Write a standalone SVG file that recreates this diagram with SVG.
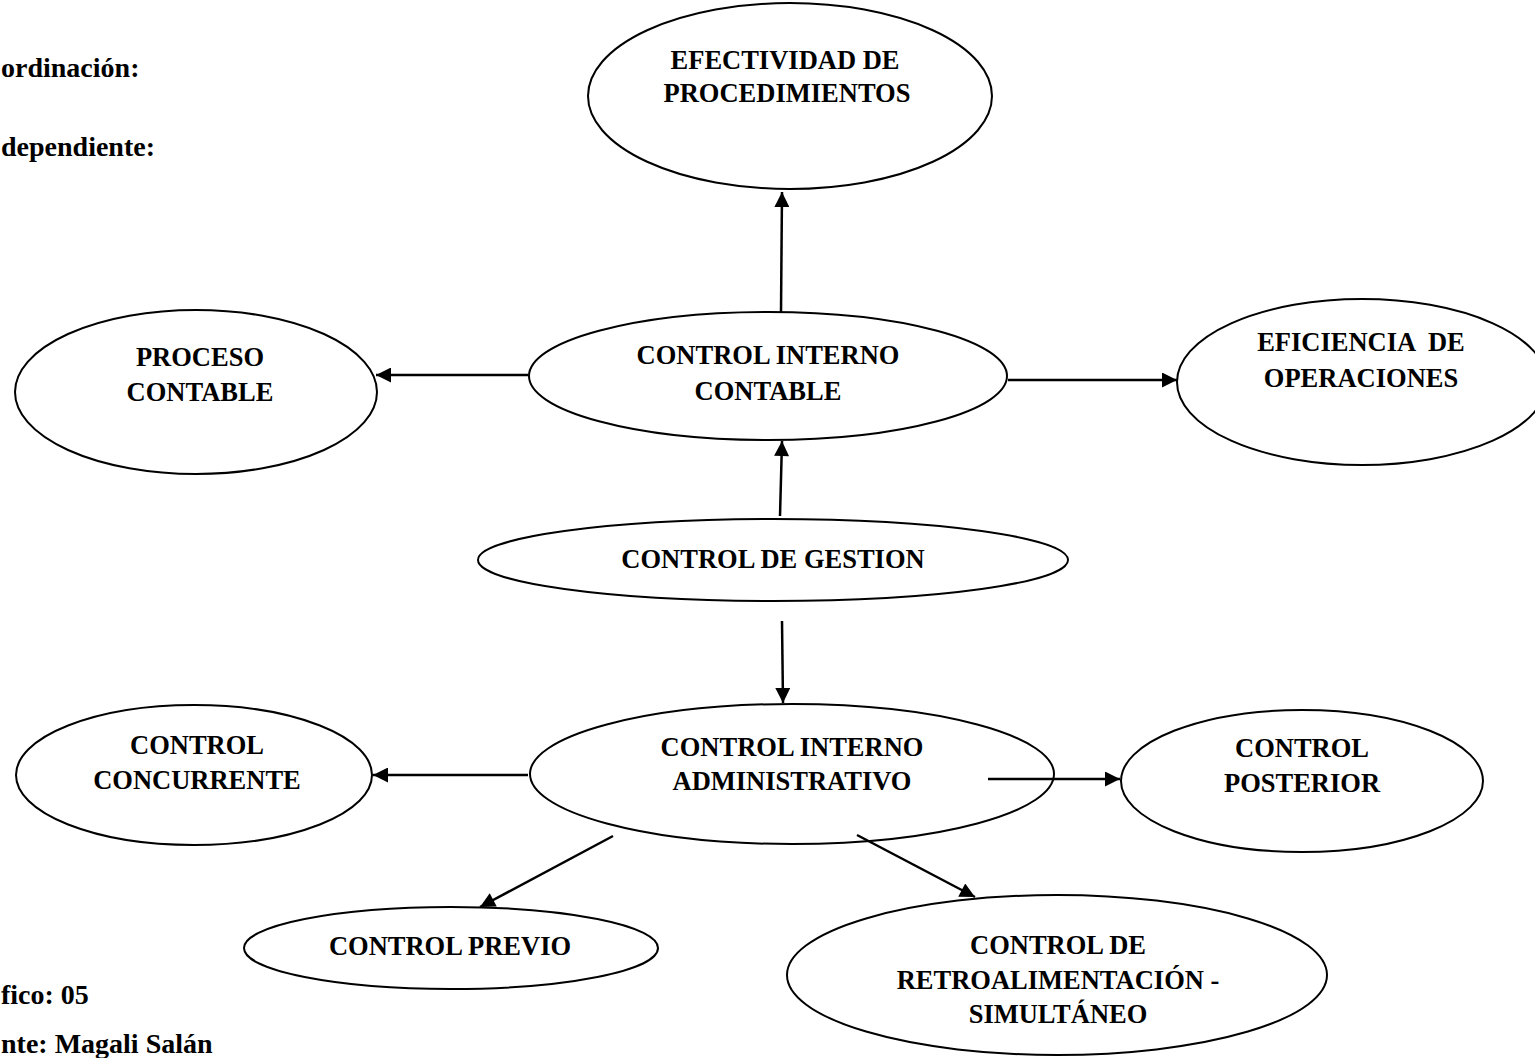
<svg xmlns="http://www.w3.org/2000/svg" width="1535" height="1058" viewBox="0 0 1535 1058">
  <style>
    .node ellipse { fill: #ffffff; stroke: #000000; stroke-width: 2; }
    text { font-family: "Liberation Serif", "Times New Roman", serif; font-weight: bold; font-size: 26.5px; fill: #000000; }
    .caption { font-size: 28px; text-anchor: start; }
    .lbl { text-anchor: middle; }
    .edge { stroke: #000000; stroke-width: 2.5; fill: none; marker-end: url(#head); }
  </style>
  <defs>
    <marker id="head" viewBox="0 0 10 10" refX="10" refY="5" markerWidth="7" markerHeight="6" markerUnits="strokeWidth" orient="auto">
      <path d="M0,0 L10,5 L0,10 Z" fill="#000000"/>
    </marker>
  </defs>

  <rect width="1535" height="1058" fill="#ffffff"/>

  <!-- side captions -->
  <g id="captions">
    <text class="caption" x="1" y="77">ordinación:</text>
    <text class="caption" x="1" y="156">dependiente:</text>
    <text class="caption" x="1" y="1004">fico: 05</text>
    <text class="caption" x="1" y="1053">nte: Magali Salán</text>
  </g>

  <g id="efectividad" class="node">
    <ellipse cx="790" cy="96" rx="202" ry="93"/>
    <text class="lbl" x="785" y="69">EFECTIVIDAD DE</text>
    <text class="lbl" x="787" y="102">PROCEDIMIENTOS</text>
  </g>

  <g id="proceso-contable" class="node">
    <ellipse cx="196" cy="392" rx="181" ry="82"/>
    <text class="lbl" x="200" y="366">PROCESO</text>
    <text class="lbl" x="200" y="401">CONTABLE</text>
  </g>

  <g id="ci-contable" class="node">
    <ellipse cx="768" cy="376" rx="239" ry="64"/>
    <text class="lbl" x="768" y="364">CONTROL INTERNO</text>
    <text class="lbl" x="768" y="400">CONTABLE</text>
  </g>

  <g id="eficiencia" class="node">
    <ellipse cx="1362" cy="382" rx="185" ry="83"/>
    <text class="lbl" x="1361" y="351" xml:space="preserve">EFICIENCIA  DE</text>
    <text class="lbl" x="1361" y="387">OPERACIONES</text>
  </g>

  <g id="control-gestion" class="node">
    <ellipse cx="773" cy="560" rx="295" ry="41"/>
    <text class="lbl" x="773" y="568">CONTROL DE GESTION</text>
  </g>

  <g id="ci-administrativo" class="node">
    <ellipse cx="792" cy="774" rx="262" ry="70"/>
    <text class="lbl" x="792" y="756">CONTROL INTERNO</text>
    <text class="lbl" x="792" y="790">ADMINISTRATIVO</text>
  </g>

  <g id="control-concurrente" class="node">
    <ellipse cx="194" cy="775" rx="178" ry="70"/>
    <text class="lbl" x="197" y="754">CONTROL</text>
    <text class="lbl" x="197" y="789">CONCURRENTE</text>
  </g>

  <g id="control-posterior" class="node">
    <ellipse cx="1302" cy="781" rx="181" ry="71"/>
    <text class="lbl" x="1302" y="757">CONTROL</text>
    <text class="lbl" x="1302" y="792">POSTERIOR</text>
  </g>

  <g id="control-previo" class="node">
    <ellipse cx="451" cy="948" rx="207" ry="41"/>
    <text class="lbl" x="450" y="955">CONTROL PREVIO</text>
  </g>

  <g id="control-retro" class="node">
    <ellipse cx="1057" cy="975" rx="270" ry="80"/>
    <text class="lbl" x="1058" y="954">CONTROL DE</text>
    <text class="lbl" x="1058" y="989">RETROALIMENTACIÓN -</text>
    <text class="lbl" x="1058" y="1023">SIMULTÁNEO</text>
  </g>

  <!-- connectors, drawn over the ellipses -->
  <g id="connectors">
    <line class="edge" x1="781" y1="312" x2="782" y2="192"/>
    <line class="edge" x1="528" y1="375" x2="376" y2="375"/>
    <line class="edge" x1="1008" y1="380" x2="1177" y2="380"/>
    <line class="edge" x1="780" y1="516" x2="782" y2="441"/>
    <line class="edge" x1="782" y1="621" x2="783" y2="703"/>
    <line class="edge" x1="528" y1="775" x2="373" y2="775"/>
    <line class="edge" x1="988" y1="779" x2="1120" y2="779"/>
    <line class="edge" x1="613" y1="836" x2="480" y2="907"/>
    <line class="edge" x1="857" y1="835" x2="975" y2="897"/>
  </g>
</svg>
